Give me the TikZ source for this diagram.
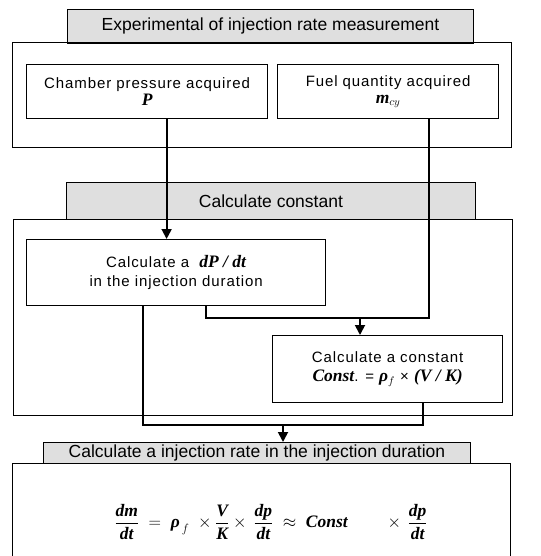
\documentclass[tikz,border=0pt]{standalone}
\usepackage{fontspec}
\setmainfont{Liberation Sans}
\newfontfamily\serifbi{Liberation Serif}
\usetikzlibrary{positioning, arrows.meta}

\newcommand{\bi}[1]{\mbox{\serifbi\bfseries\itshape\fontsize{17.5}{19}\selectfont #1}}
\newcommand{\titlefont}{\fontsize{17.5}{20}\selectfont}
\newcommand{\boxfont}{\fontsize{15}{19}\selectfont\addfontfeatures{LetterSpace=6}}

\begin{document}
\begin{tikzpicture}[x=1pt, y=-1pt,
    titlebox/.style={draw, fill=gray!25, line width=0.9pt, inner sep=0pt, anchor=north west, font=\titlefont},
    frame/.style={draw, line width=1.2pt, inner sep=0pt, anchor=north west},
    stepbox/.style={draw, line width=1.2pt, inner sep=0pt, anchor=north west, align=center, font=\boxfont},
    flow/.style={line width=1.8pt},
    >={Triangle[length=10pt, width=10pt]}]
    \useasboundingbox (0,0) rectangle (540,556);

    % measurement
    \node[titlebox, minimum width=406pt, minimum height=34pt] (exptitle) at (67,9) {Experimental of injection rate measurement};
    \node[frame, minimum width=499pt, minimum height=105pt] (expframe) at (12,42) {};
    \node[stepbox, minimum width=241pt, minimum height=54pt] (chamber) at (26,64) {Chamber pressure acquired\\[-2pt] \bi{P}};
    \node[stepbox, minimum width=221pt, minimum height=54pt] (fuel) at (277,64) {Fuel quantity acquired\\[-2pt] \bi{m}$_{cy}$};

    % constant
    \node[titlebox, minimum width=409pt, minimum height=37pt] (consttitle) at (66,182) {Calculate constant};
    \node[frame, minimum width=499pt, minimum height=196pt] (constframe) at (13,219) {};
    \node[stepbox, minimum width=299pt, minimum height=66pt] (dpdt) at (26,239) {Calculate a \ \bi{dP / dt}\\ in the injection duration};
    \node[stepbox, minimum width=230pt, minimum height=67pt] (const) at (272,335) {Calculate a constant\\ \bi{Const}. = \bi{ρ}$_{f}$ × \bi{(V / K)}};

    % injection rate
    \node[titlebox, minimum width=427pt, minimum height=21pt] (ratetitle) at (43,442) {Calculate a injection rate in the injection duration};
    \node[frame, minimum width=498pt, minimum height=110pt] (rateframe) at (12,463) {};
    \node[font=\fontsize{18}{22}\selectfont] (ratefx) at (271,522)
        {$\displaystyle\frac{\bi{dm}}{\bi{dt}} \;=\; \bi{ρ}_{\,f} \;\times \frac{\bi{V}}{\bi{K}} \times\, \frac{\bi{dp}}{\bi{dt}} \;\approx\; \bi{Const}\qquad \times\, \frac{\bi{dp}}{\bi{dt}}$};

    % connectors
    \coordinate (split) at (360,318);
    \coordinate (merge) at (283,425);
    \draw[flow, ->] ([xshift=19.5pt]chamber.south) -- ([xshift=19.5pt]chamber.south |- dpdt.north);
    \draw[flow] ([xshift=40.5pt]fuel.south) |- (split) -| ([xshift=29.5pt]dpdt.south);
    \draw[flow, ->] (split) -- (split |- const.north);
    \draw[flow] ([xshift=-33.5pt]dpdt.south) |- (merge) -| ([xshift=35pt]const.south);
    \draw[flow, ->] (merge) -- (merge |- ratetitle.north);
\end{tikzpicture}
\end{document}
